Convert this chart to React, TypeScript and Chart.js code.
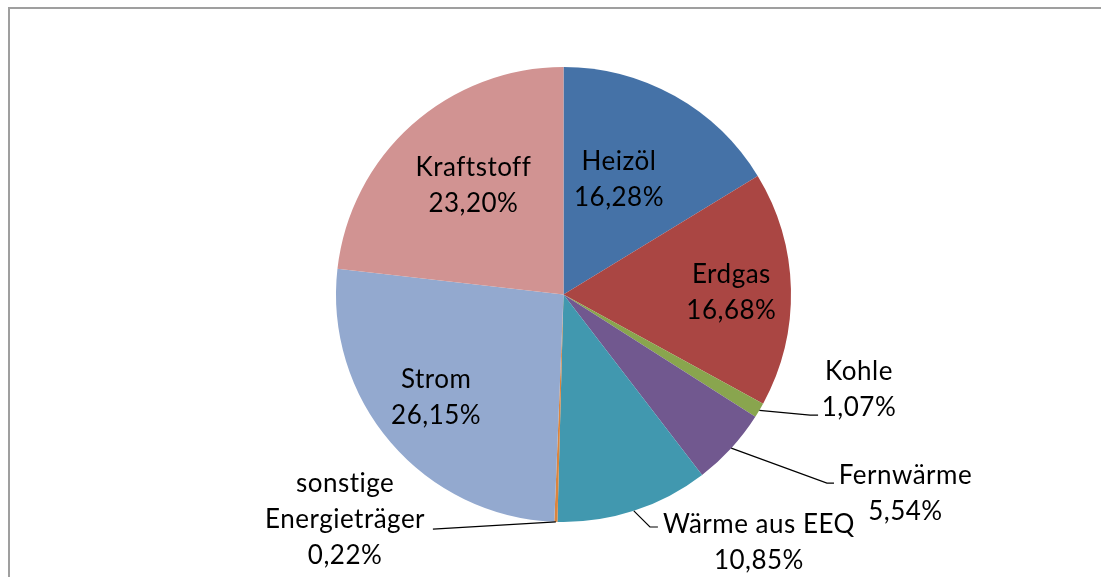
import React, { useEffect, useRef } from "react";
import { Chart, registerables } from "chart.js";

Chart.register(...registerables);

const categories = ["Heizöl", "Erdgas", "Kohle", "Fernwärme", "Wärme aus EEQ", "sonstige Energieträger", "Strom", "Kraftstoff"];
const categoryLines = [["Heizöl"], ["Erdgas"], ["Kohle"], ["Fernwärme"], ["Wärme aus EEQ"], ["sonstige", "Energieträger"], ["Strom"], ["Kraftstoff"]];
const shares = [16.28, 16.68, 1.07, 5.54, 10.85, 0.22, 26.15, 23.2];
const sliceColors = ["#4572A7", "#AA4643", "#89A54E", "#71588F", "#4198AF", "#DB843D", "#93A9CF", "#D19392"];

// label centre relative to pie centre, in radius units
const labelOffsets = [
  [0.244, -0.508],
  [0.738, -0.013],
  [1.299, 0.415],
  [1.503, 0.873],
  [0.859, 1.086],
  [-0.96, 0.987],
  [-0.56, 0.448],
  [-0.396, -0.481],
];
// leader line points (relative to pie centre, radius units); null = no leader
const leaderPoints: (number[][] | null)[] = [
  null,
  null,
  [[1.084, 0.53], [1.119, 0.53]],
  [[1.158, 0.829], [1.189, 0.829]],
  [[0.38, 1.022], [0.415, 1.022]],
  [[-0.574, 1.031]],
  null,
  null,
];

const fmt = (v: number) => v.toFixed(2).replace(".", ",") + "%";

const labelPlugin = {
  id: "pieLabels",
  beforeDraw(chart: any) {
    const ctx = chart.ctx;
    ctx.save();
    ctx.fillStyle = "#9f9f9f";
    ctx.fillRect(8, 7, 2, chart.height);
    ctx.fillRect(8, 7, chart.width, 2);
    ctx.restore();
  },
  afterDatasetsDraw(chart: any) {
    const ctx = chart.ctx;
    const meta = chart.getDatasetMeta(0);
    ctx.save();
    meta.data.forEach((arc: any, i: number) => {
      const p = arc.getProps(["x", "y", "outerRadius", "startAngle", "endAngle"], true);
      const R = p.outerRadius;
      const mid = (p.startAngle + p.endAngle) / 2;
      const pts = leaderPoints[i];
      if (pts) {
        ctx.beginPath();
        ctx.strokeStyle = "#000";
        ctx.lineWidth = 1.2;
        ctx.moveTo(p.x + Math.cos(mid) * R, p.y + Math.sin(mid) * R);
        pts.forEach((q) => ctx.lineTo(p.x + q[0] * R, p.y + q[1] * R));
        ctx.stroke();
      }
      const lines = [...categoryLines[i], fmt(shares[i])];
      const cx = p.x + labelOffsets[i][0] * R;
      const cy = p.y + labelOffsets[i][1] * R;
      const lh = 36;
      ctx.fillStyle = "#000";
      ctx.font = "26px Lato";
      (ctx as any).letterSpacing = "0.5px";
      ctx.textAlign = "center";
      ctx.textBaseline = "middle";
      lines.forEach((t, k) => {
        ctx.fillText(t, cx, cy + 1 + (k - (lines.length - 1) / 2) * lh);
      });
    });
    ctx.restore();
  },
};

export default function App() {
  const ref = useRef<HTMLCanvasElement>(null);
  useEffect(() => {
    const chart = new Chart(ref.current!, {
      type: "pie",
      data: {
        labels: categories,
        datasets: [{ data: shares, backgroundColor: sliceColors, borderWidth: 0 }],
      },
      options: {
        animation: false,
        responsive: false,
        layout: { padding: { top: 67, bottom: 55, left: 336, right: 310 } },
        plugins: { legend: { display: false }, tooltip: { enabled: false } },
      },
      plugins: [labelPlugin],
    });
    return () => chart.destroy();
  }, []);
  return (
    <div style={{ position: "fixed", left: 0, top: 0, width: 1101, height: 577, background: "#fff" }}>
      <canvas ref={ref} width={1101} height={577} style={{ display: "block" }} />
    </div>
  );
}
